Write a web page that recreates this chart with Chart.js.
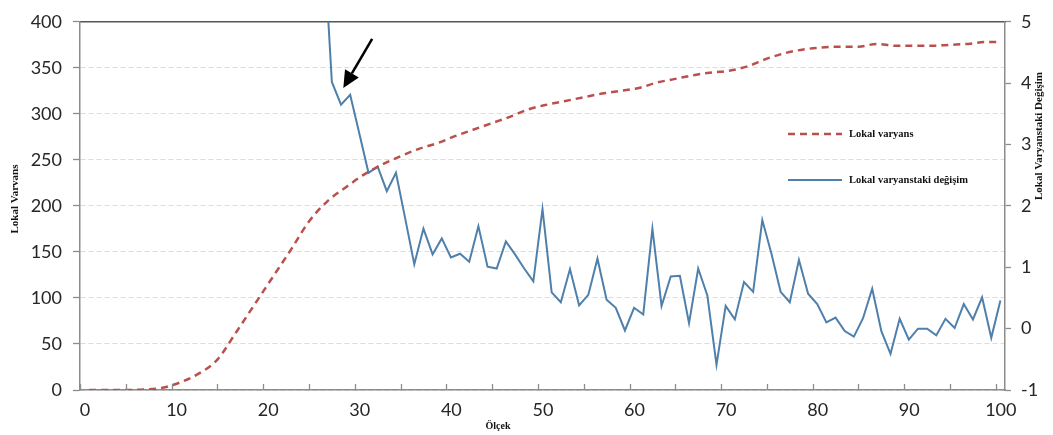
<!DOCTYPE html>
<html>
<head>
<meta charset="utf-8">
<script src="https://cdn.jsdelivr.net/npm/chart.js@4"></script>
<style>
  body { margin: 0; background: #fff; }
  #kutu { width: 1053px; height: 435px; position: relative; }
</style>
</head>
<body>
<div id="kutu"><canvas id="grafik"></canvas></div>
<script>
// Lokal varyans (sol eksen)
const varyansOlcek = [1, 3, 5, 7, 9, 11, 13, 15, 17, 19, 21, 23, 25, 27, 29, 31, 33, 35, 37, 39,
  41, 43, 45, 47, 49, 51, 53, 55, 57, 59, 61, 63, 65, 67, 69, 71, 73, 75, 77, 79,
  81, 83, 85, 87, 89, 91, 93, 95, 97, 99, 100.5];
const lokalVaryans = [0, 0, 0, 0.5, 2.5, 8.5, 18, 33, 62, 92, 122, 152, 183, 205, 220, 234, 245, 254, 262, 268,
  276, 283, 290, 297, 305, 310, 314, 318, 322, 325, 328, 334, 338, 342, 345, 347, 352, 360, 366, 370,
  372, 373, 373, 376, 374, 374, 374, 375, 376, 378, 378];

// Lokal varyanstaki değişim (sağ eksen)
const degisimOlcek = [26.5, 27.5, 28.5, 29.5, 30.5, 31.5, 32.5, 33.5, 34.5, 35.5, 36.5, 37.5, 38.5, 39.5,
  40.5, 41.5, 42.5, 43.5, 44.5, 45.5, 46.5, 47.5, 48.5, 49.5, 50.5, 51.5, 52.5, 53.5, 54.5, 55.5,
  56.5, 57.5, 58.5, 59.5, 60.5, 61.5, 62.5, 63.5, 64.5, 65.5, 66.5, 67.5, 68.5, 69.5, 70.5, 71.5,
  72.5, 73.5, 74.5, 75.5, 76.5, 77.5, 78.5, 79.5, 80.5, 81.5, 82.5, 83.5, 84.5, 85.5, 86.5, 87.5,
  88.5, 89.5, 90.5, 91.5, 92.5, 93.5, 94.5, 95.5, 96.5, 97.5, 98.5, 99.5, 100.5];
const lokalDegisim = [6.6, 4.02, 3.65, 3.81, 3.18, 2.54, 2.64, 2.24, 2.54, 1.80, 1.05, 1.63, 1.21, 1.47,
  1.16, 1.22, 1.09, 1.67, 1.01, 0.98, 1.42, 1.21, 0.98, 0.77, 1.95, 0.59, 0.43, 0.97, 0.38, 0.55,
  1.14, 0.47, 0.34, -0.03, 0.34, 0.23, 1.63, 0.37, 0.85, 0.86, 0.09, 0.98, 0.54, -0.59, 0.37, 0.15,
  0.76, 0.60, 1.77, 1.22, 0.60, 0.43, 1.12, 0.57, 0.40, 0.10, 0.18, -0.04, -0.13, 0.17, 0.65, -0.04,
  -0.41, 0.16, -0.18, 0.00, 0.00, -0.11, 0.16, 0.01, 0.40, 0.15, 0.51, -0.15, 0.46];

// eksen tikleri
const xTikleri = [0, 5, 10, 15, 20, 25, 30, 35, 40, 45, 50, 55, 60, 65, 70, 75, 80, 85, 90, 95, 100];
const solTikler = [0, 50, 100, 150, 200, 250, 300, 350, 400];
const sagTikler = [-1, 0, 1, 2, 3, 4, 5];

const solBaslik = 'Lokal Varvans';
const sagBaslik = 'Lokal Varyanstaki Değişim';
const xBaslik = 'Ölçek';

// ok: ucu ve kuyruğu (x, sağ eksen)
const okUcu = [28.75, 3.92];
const okKuyrugu = [31.9, 4.72];

const KIRMIZI = '#b9504c';
const MAVI = '#4f7fab';
const EKSEN = '#8c8c8c';
const tikYazi = { family: 'Lato', size: 18 };

function tikKur(liste) {
  return function (scale) { scale.ticks = liste.map(v => ({ value: v })); };
}

// eksen başlıkları, lejant, ok ve x içe çentikleri
const cizimEklentisi = {
  id: 'cizim',
  afterDraw(chart) {
    const ctx = chart.ctx;
    const alan = chart.chartArea;
    const x = chart.scales.x, y2 = chart.scales.y2;
    ctx.save();

    ctx.strokeStyle = EKSEN;
    ctx.lineWidth = 1.3;
    x.ticks.forEach(t => {
      const px = Math.round(x.getPixelForValue(t.value)) + 0.5;
      ctx.beginPath();
      ctx.moveTo(px, alan.bottom);
      ctx.lineTo(px, alan.bottom - 6);
      ctx.stroke();
    });

    // ok
    const ux = x.getPixelForValue(okUcu[0]), uy = y2.getPixelForValue(okUcu[1]);
    const kx = x.getPixelForValue(okKuyrugu[0]), ky = y2.getPixelForValue(okKuyrugu[1]);
    const aci = Math.atan2(uy - ky, ux - kx);
    const bas = 17, gen = 8;
    const bx = ux - bas * Math.cos(aci), by = uy - bas * Math.sin(aci);
    ctx.strokeStyle = '#000';
    ctx.fillStyle = '#000';
    ctx.lineWidth = 2.5;
    ctx.beginPath();
    ctx.moveTo(kx, ky);
    ctx.lineTo(bx, by);
    ctx.stroke();
    ctx.beginPath();
    ctx.moveTo(ux, uy);
    ctx.lineTo(bx + gen * Math.sin(aci), by - gen * Math.cos(aci));
    ctx.lineTo(bx - gen * Math.sin(aci), by + gen * Math.cos(aci));
    ctx.closePath();
    ctx.fill();

    // eksen başlıkları
    ctx.fillStyle = '#111';
    ctx.textAlign = 'center';
    ctx.textBaseline = 'middle';
    ctx.font = 'bold 11px "Liberation Serif"';
    ctx.save();
    ctx.translate(15, 199);
    ctx.rotate(-Math.PI / 2);
    ctx.fillText(solBaslik, 0, 0);
    ctx.restore();
    ctx.save();
    ctx.translate(1039, 136);
    ctx.rotate(-Math.PI / 2);
    ctx.fillText(sagBaslik, 0, 0);
    ctx.restore();
    ctx.font = 'bold 10px "Liberation Serif"';
    ctx.fillText(xBaslik, 498, 426);

    // lejant
    const satirlar = [134, 180];
    ctx.font = 'bold 10.5px "Liberation Serif"';
    ctx.textAlign = 'left';
    chart.data.datasets.forEach((ds, i) => {
      const yy = satirlar[i];
      ctx.strokeStyle = ds.borderColor;
      ctx.lineWidth = ds.borderWidth;
      ctx.setLineDash(ds.borderDash || []);
      ctx.beginPath();
      ctx.moveTo(788, yy);
      ctx.lineTo(842, yy);
      ctx.stroke();
      ctx.setLineDash([]);
      ctx.fillStyle = '#111';
      ctx.fillText(ds.label, 849, yy);
    });

    ctx.restore();
  }
};

new Chart(document.getElementById('grafik'), {
  type: 'line',
  data: {
    datasets: [{
      label: 'Lokal varyans',
      data: varyansOlcek.map((v, i) => ({ x: v, y: lokalVaryans[i] })),
      yAxisID: 'y',
      borderColor: KIRMIZI,
      borderWidth: 2.5,
      borderDash: [7, 5],
      pointRadius: 0,
      cubicInterpolationMode: 'monotone',
      order: 0
    }, {
      label: 'Lokal varyanstaki değişim',
      data: degisimOlcek.map((v, i) => ({ x: v, y: lokalDegisim[i] })),
      yAxisID: 'y2',
      borderColor: MAVI,
      borderWidth: 2,
      pointRadius: 0,
      tension: 0,
      order: 1
    }]
  },
  options: {
    animation: false,
    responsive: true,
    maintainAspectRatio: false,
    layout: { padding: 0 },
    plugins: { legend: { display: false }, tooltip: { enabled: false } },
    scales: {
      x: {
        type: 'linear',
        min: 0, max: 101,
        afterBuildTicks: tikKur(xTikleri),
        afterFit(s) { s.height = 45; },
        grid: { drawOnChartArea: false, drawTicks: false },
        border: { color: EKSEN, width: 1.5 },
        ticks: {
          font: tikYazi, color: '#262626', padding: 9, labelOffset: 5,
          maxRotation: 0, autoSkip: false,
          callback: v => (v % 10 === 0 ? v : '')
        }
      },
      x2: {
        type: 'linear',
        position: 'top',
        min: 0, max: 101,
        afterFit(s) { s.height = 11; },
        grid: { drawOnChartArea: false, drawTicks: false },
        border: { color: '#555', width: 1.5 },
        ticks: { display: false }
      },
      y: {
        position: 'left',
        min: 0, max: 400,
        afterBuildTicks: tikKur(solTikler),
        afterFit(s) { s.width = 80; },
        grid: {
          color: '#dcdcdc', lineWidth: 1,
          tickLength: 7, tickColor: EKSEN, tickWidth: 1.3, tickBorderDash: []
        },
        border: { color: EKSEN, width: 1.5, dash: [5, 3] },
        ticks: { font: tikYazi, color: '#262626', padding: 11 }
      },
      y2: {
        position: 'right',
        min: -1, max: 5,
        afterBuildTicks: tikKur(sagTikler),
        afterFit(s) { s.width = 48; },
        grid: {
          drawOnChartArea: false,
          tickLength: 6, tickColor: EKSEN, tickWidth: 1.3
        },
        border: { color: EKSEN, width: 1.5 },
        ticks: { font: tikYazi, color: '#262626', padding: 10 }
      }
    }
  },
  plugins: [cizimEklentisi]
});
</script>
</body>
</html>
